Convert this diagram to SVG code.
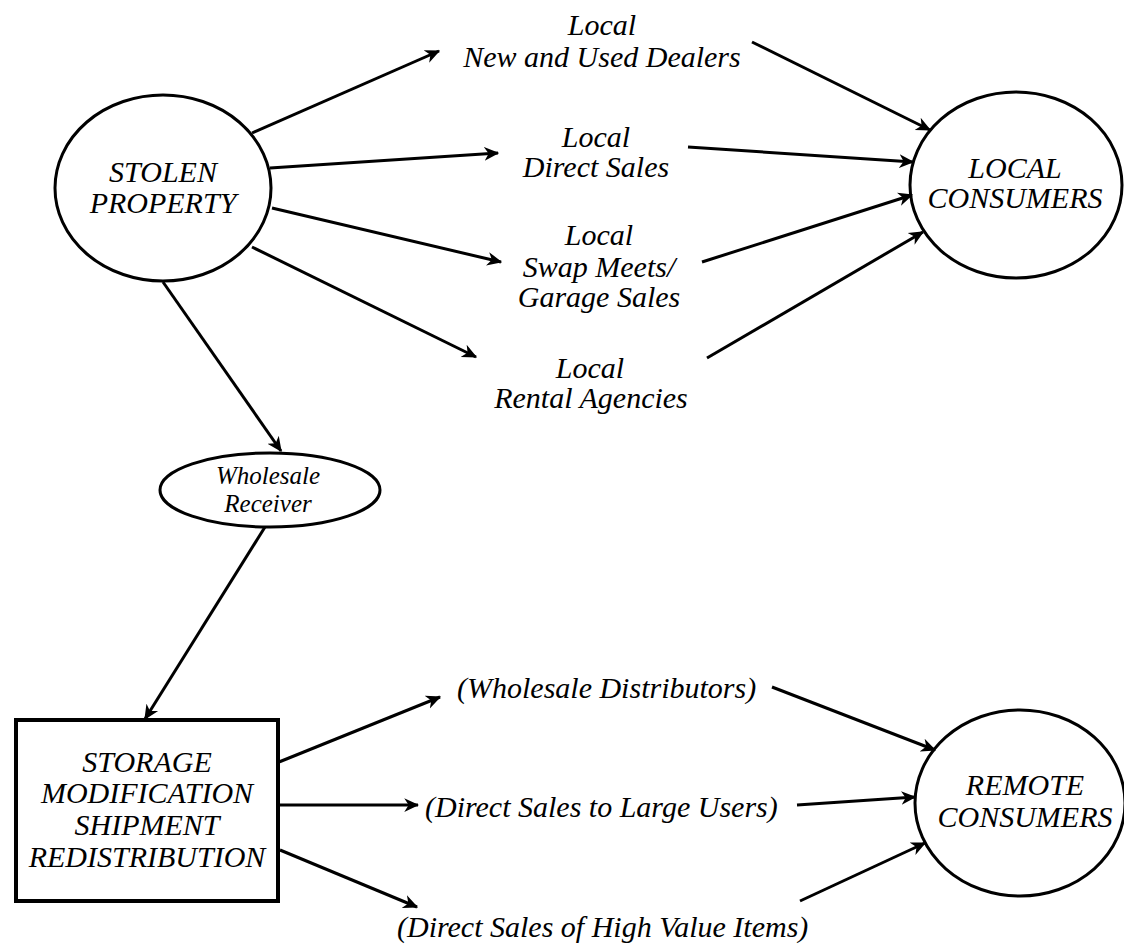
<svg xmlns="http://www.w3.org/2000/svg" width="1124" height="944" viewBox="0 0 1124 944">
<style>
  .bg { fill: #ffffff; }
  .shape { fill: #ffffff; stroke: #000000; stroke-width: 3; }
  .box { fill: #ffffff; stroke: #000000; stroke-width: 4; }
  .t { font-family: "Liberation Serif", "Times New Roman", serif; font-style: italic; font-size: 30px; fill: #000000; text-anchor: middle; }
  .tl { text-anchor: start; }
  .sm { font-size: 25px; }
  .conn line { stroke: #000000; stroke-width: 3; fill: none; marker-end: url(#ah); }
</style>
<defs>
  <marker id="ah" viewBox="0 0 12 12" refX="11" refY="6" markerWidth="15" markerHeight="15" orient="auto" markerUnits="userSpaceOnUse">
    <path d="M0,0.5 L12,6 L0,11.5 L3.5,6 z" fill="#000000"/>
  </marker>
</defs>
<rect class="bg" x="0" y="0" width="1124" height="944"/>

<g id="stolen-property">
  <ellipse class="shape" cx="163" cy="188" rx="108" ry="93"/>
  <text class="t" x="163" y="182">STOLEN</text>
  <text class="t" x="163" y="213">PROPERTY</text>
</g>

<g id="local-consumers">
  <ellipse class="shape" cx="1016" cy="185" rx="106" ry="93"/>
  <text class="t" x="1015" y="178">LOCAL</text>
  <text class="t" x="1015" y="208">CONSUMERS</text>
</g>

<g id="remote-consumers">
  <ellipse class="shape" cx="1020" cy="803" rx="105" ry="93"/>
  <text class="t" x="1025" y="795">REMOTE</text>
  <text class="t" x="1025" y="827">CONSUMERS</text>
</g>

<g id="wholesale-receiver">
  <ellipse class="shape" cx="270" cy="490" rx="110" ry="37"/>
  <text class="t sm" x="268" y="484">Wholesale</text>
  <text class="t sm" x="268" y="512">Receiver</text>
</g>

<g id="storage">
  <rect class="box" x="16" y="720" width="262" height="181"/>
  <text class="t" x="147" y="772">STORAGE</text>
  <text class="t" x="147" y="803">MODIFICATION</text>
  <text class="t" x="147" y="835">SHIPMENT</text>
  <text class="t" x="147" y="867">REDISTRIBUTION</text>
</g>

<g id="local-dealers">
  <text class="t" x="602" y="35">Local</text>
  <text class="t" x="602" y="67">New and Used Dealers</text>
</g>
<g id="local-direct">
  <text class="t" x="596" y="147">Local</text>
  <text class="t" x="596" y="177">Direct Sales</text>
</g>
<g id="local-swap">
  <text class="t" x="599" y="245">Local</text>
  <text class="t" x="599" y="277">Swap Meets/</text>
  <text class="t" x="599" y="307">Garage Sales</text>
</g>
<g id="local-rental">
  <text class="t" x="590" y="378">Local</text>
  <text class="t" x="591" y="408">Rental Agencies</text>
</g>
<g id="wholesale-distributors">
  <text class="t tl" x="457" y="698">(Wholesale Distributors)</text>
</g>
<g id="direct-large">
  <text class="t tl" x="425" y="817">(Direct Sales to Large Users)</text>
</g>
<g id="direct-high">
  <text class="t tl" x="397" y="937">(Direct Sales of High Value Items)</text>
</g>

<g id="connectors" class="conn">
  <line x1="252" y1="133" x2="439" y2="51"/>
  <line x1="270" y1="168" x2="498" y2="153"/>
  <line x1="272" y1="208" x2="501" y2="262"/>
  <line x1="252" y1="247" x2="476" y2="357"/>
  <line x1="163" y1="282" x2="281" y2="451"/>
  <line x1="265" y1="527" x2="145" y2="719"/>
  <line x1="752" y1="42" x2="930" y2="130"/>
  <line x1="688" y1="147" x2="913" y2="162"/>
  <line x1="702" y1="262" x2="912" y2="195"/>
  <line x1="707" y1="358" x2="923" y2="232"/>
  <line x1="279" y1="762" x2="440" y2="697"/>
  <line x1="279" y1="805" x2="418" y2="805"/>
  <line x1="280" y1="850" x2="417" y2="907"/>
  <line x1="772" y1="687" x2="935" y2="750"/>
  <line x1="797" y1="805" x2="915" y2="797"/>
  <line x1="800" y1="901" x2="925" y2="843"/>
</g>
</svg>
